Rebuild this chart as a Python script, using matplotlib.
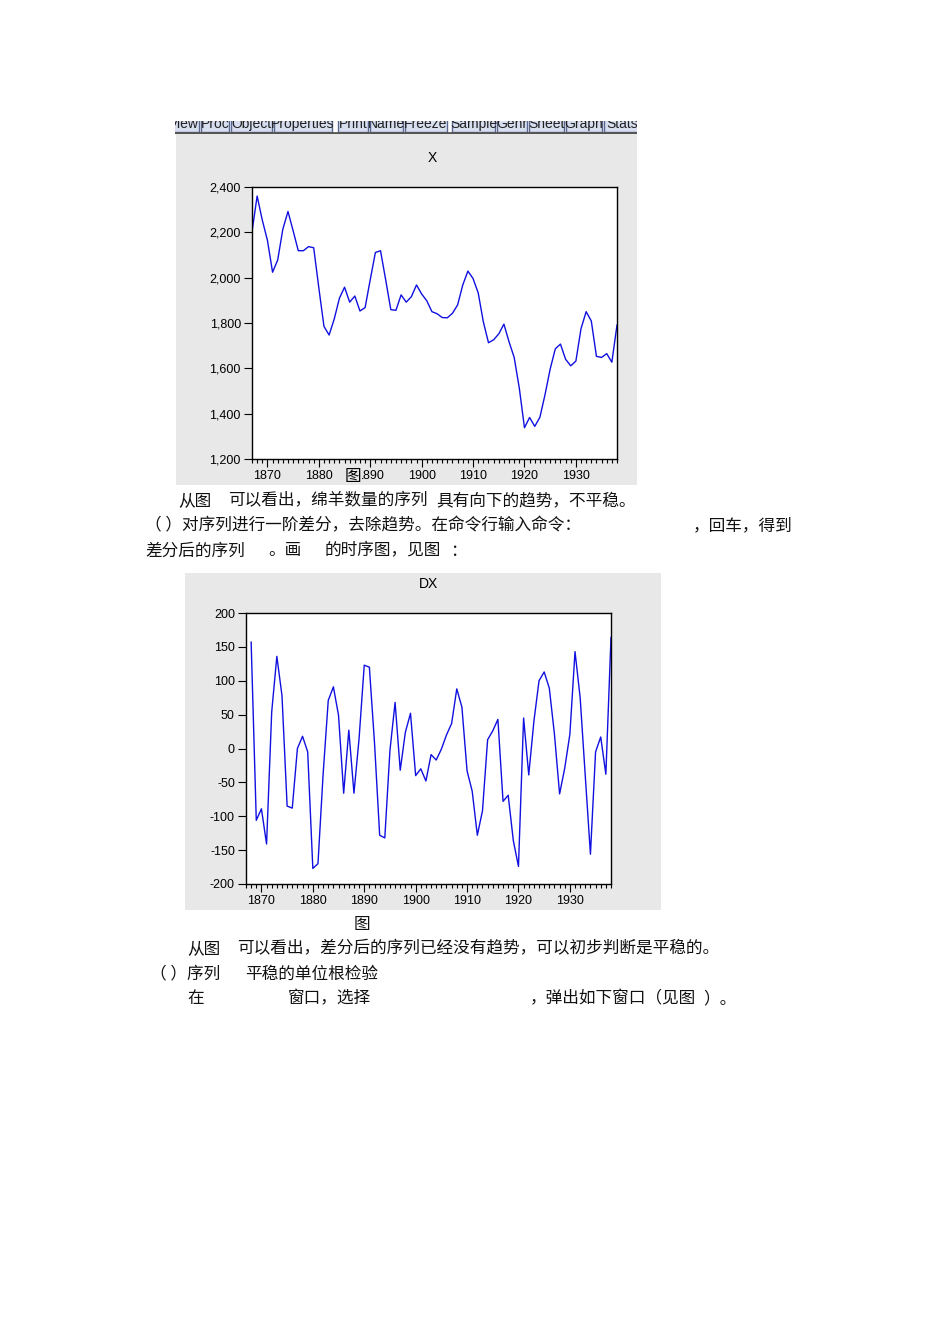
import numpy as np
import matplotlib.pyplot as plt
from matplotlib.patches import Rectangle
from matplotlib.ticker import FuncFormatter

# sheep numbers X (1867-1938) and first difference DX (1868-1938)
years = list(range(1867, 1939))
x_vals = [2203, 2360, 2254, 2165, 2024, 2078, 2214, 2292, 2207, 2119,
          2119, 2137, 2132, 1955, 1785, 1747, 1818, 1909, 1958, 1892,
          1919, 1853, 1868, 1991, 2111, 2119, 1991, 1859, 1856, 1924,
          1892, 1916, 1968, 1928, 1898, 1850, 1841, 1824, 1823, 1843,
          1880, 1968, 2029, 1996, 1933, 1805, 1713, 1726, 1752, 1795,
          1717, 1648, 1512, 1338, 1383, 1344, 1384, 1484, 1597, 1686,
          1707, 1640, 1611, 1632, 1775, 1850, 1809, 1653, 1648, 1665,
          1627, 1791]
dx_years = list(range(1868, 1939))
dx_vals = [157, -106, -89, -141, 54, 136, 78, -85, -88, 0,
           18, -5, -177, -170, -38, 71, 91, 49, -66, 27,
           -66, 15, 123, 120, 8, -128, -132, -3, 68, -32,
           24, 52, -40, -30, -48, -9, -17, -1, 20, 37,
           88, 61, -33, -63, -128, -92, 13, 26, 43, -78,
           -69, -136, -174, 45, -39, 40, 100, 113, 89, 21,
           -67, -29, 21, 143, 75, -41, -156, -5, 17, -38, 164]
xticks = [1870, 1880, 1890, 1900, 1910, 1920, 1930]
toolbar = ["View", "Proc", "Object", "Properties", "Print", "Name", "Freeze",
           "Sample", "Genr", "Sheet", "Graph", "Stats"]
btn_x = [(168, 199), (201, 229), (231, 272), (274, 332), (338, 368), (370, 403),
         (405, 447), (452, 495), (497, 527), (529, 564), (566, 602), (604, 640)]

plt.rcParams['axes.unicode_minus'] = False

W, H = 950, 1344
fig = plt.figure(figsize=(9.5, 13.44), dpi=100)
cjk = ['Noto Sans CJK SC', 'DejaVu Sans']
gray = '#e8e8e8'


def box(x0, y0, x1, y1):
    return [x0 / W, 1 - y1 / H, (x1 - x0) / W, (y1 - y0) / H]


def put(x, y, s, size=12, **kw):
    fig.text(x / W, 1 - y / H, s, fontsize=size, family=cjk, color='#111111',
             ha='left', va='center', **kw)


# gray panels behind charts
for b in [box(176, 133, 637, 485), box(185, 573, 661, 910)]:
    p = fig.add_axes(b, zorder=0)
    p.set_facecolor(gray)
    p.set_xticks([]); p.set_yticks([])
    for s in p.spines.values():
        s.set_visible(False)

# eviews toolbar (cut off at the top)
tb = fig.add_axes(box(175, 121, 637, 134), zorder=1)
tb.set_xlim(175, 637); tb.set_ylim(134, 121)
tb.axis('off')
for name, (a, b) in zip(toolbar, btn_x):
    tb.add_patch(Rectangle((a, 112), b - a, 19.5, facecolor='#d6deef',
                           edgecolor='#5a6890', lw=1, clip_on=True))
    tb.text((a + b) / 2, 128, name, ha='center', va='baseline', fontsize=10,
            family='Liberation Sans', color='#202020', clip_on=True)
tb.plot([175, 637], [132.8, 132.8], color='#555555', lw=2, clip_on=True)


def style(ax):
    ax.set_xlim(1867, 1938)
    ax.set_xticks(xticks)
    ax.set_xticks(range(1867, 1939), minor=True)
    ax.tick_params(which='major', direction='out', length=6, width=0.8,
                   labelsize=9, pad=2)
    ax.tick_params(which='minor', direction='out', length=3, width=0.8)
    for lab in ax.get_xticklabels() + ax.get_yticklabels():
        lab.set_family('Liberation Sans')
    for s in ax.spines.values():
        s.set_linewidth(1)


# chart X
ax1 = fig.add_axes(box(252, 187, 617, 459), zorder=2)
ax1.plot(years, x_vals, color='#1010e0', lw=1)
ax1.set_ylim(1200, 2400)
ax1.set_yticks(range(1200, 2401, 200))
ax1.yaxis.set_major_formatter(FuncFormatter(lambda v, p: f"{int(v):,}"))
style(ax1)
fig.text(432 / W, 1 - 158 / H, "X", fontsize=10, family='Liberation Sans',
         ha='center', va='center')

# chart DX
ax2 = fig.add_axes(box(246, 613, 611, 884), zorder=2)
ax2.plot(dx_years, dx_vals, color='#1010e0', lw=1)
ax2.set_ylim(-200, 200)
ax2.set_yticks(range(-200, 201, 50))
style(ax2)
fig.text(428 / W, 1 - 584 / H, "DX", fontsize=10, family='Liberation Sans',
         ha='center', va='center')

# document text
fig.text(345 / W, 1 - 476 / H, "图", fontsize=12, family=cjk, ha='left',
         va='center', zorder=5,
         bbox=dict(facecolor=gray, edgecolor='none', pad=0.5))
put(178, 501, "从图")
put(228, 501, "可以看出，绵羊数量的序列")
put(436, 501, "具有向下的趋势，不平稳。")
put(145, 526, "（ ）对序列进行一阶差分，去除趋势。在命令行输入命令：")
put(693, 526, "，回车，得到")
put(145, 551, "差分后的序列")
put(268, 551, "。画")
put(325, 551, "的时序图，见图")
put(450, 551, "：")
put(354, 924, "图")
put(187, 949, "从图")
put(237, 949, "可以看出，差分后的序列已经没有趋势，可以初步判断是平稳的。")
put(150, 974, "（ ）序列")
put(245, 974, "平稳的单位根检验")
put(187, 999, "在")
put(288, 999, "窗口，选择")
put(530, 999, "，弹出如下窗口（见图")
put(703, 999, "）。")

fig.savefig("out.png", dpi=100)
